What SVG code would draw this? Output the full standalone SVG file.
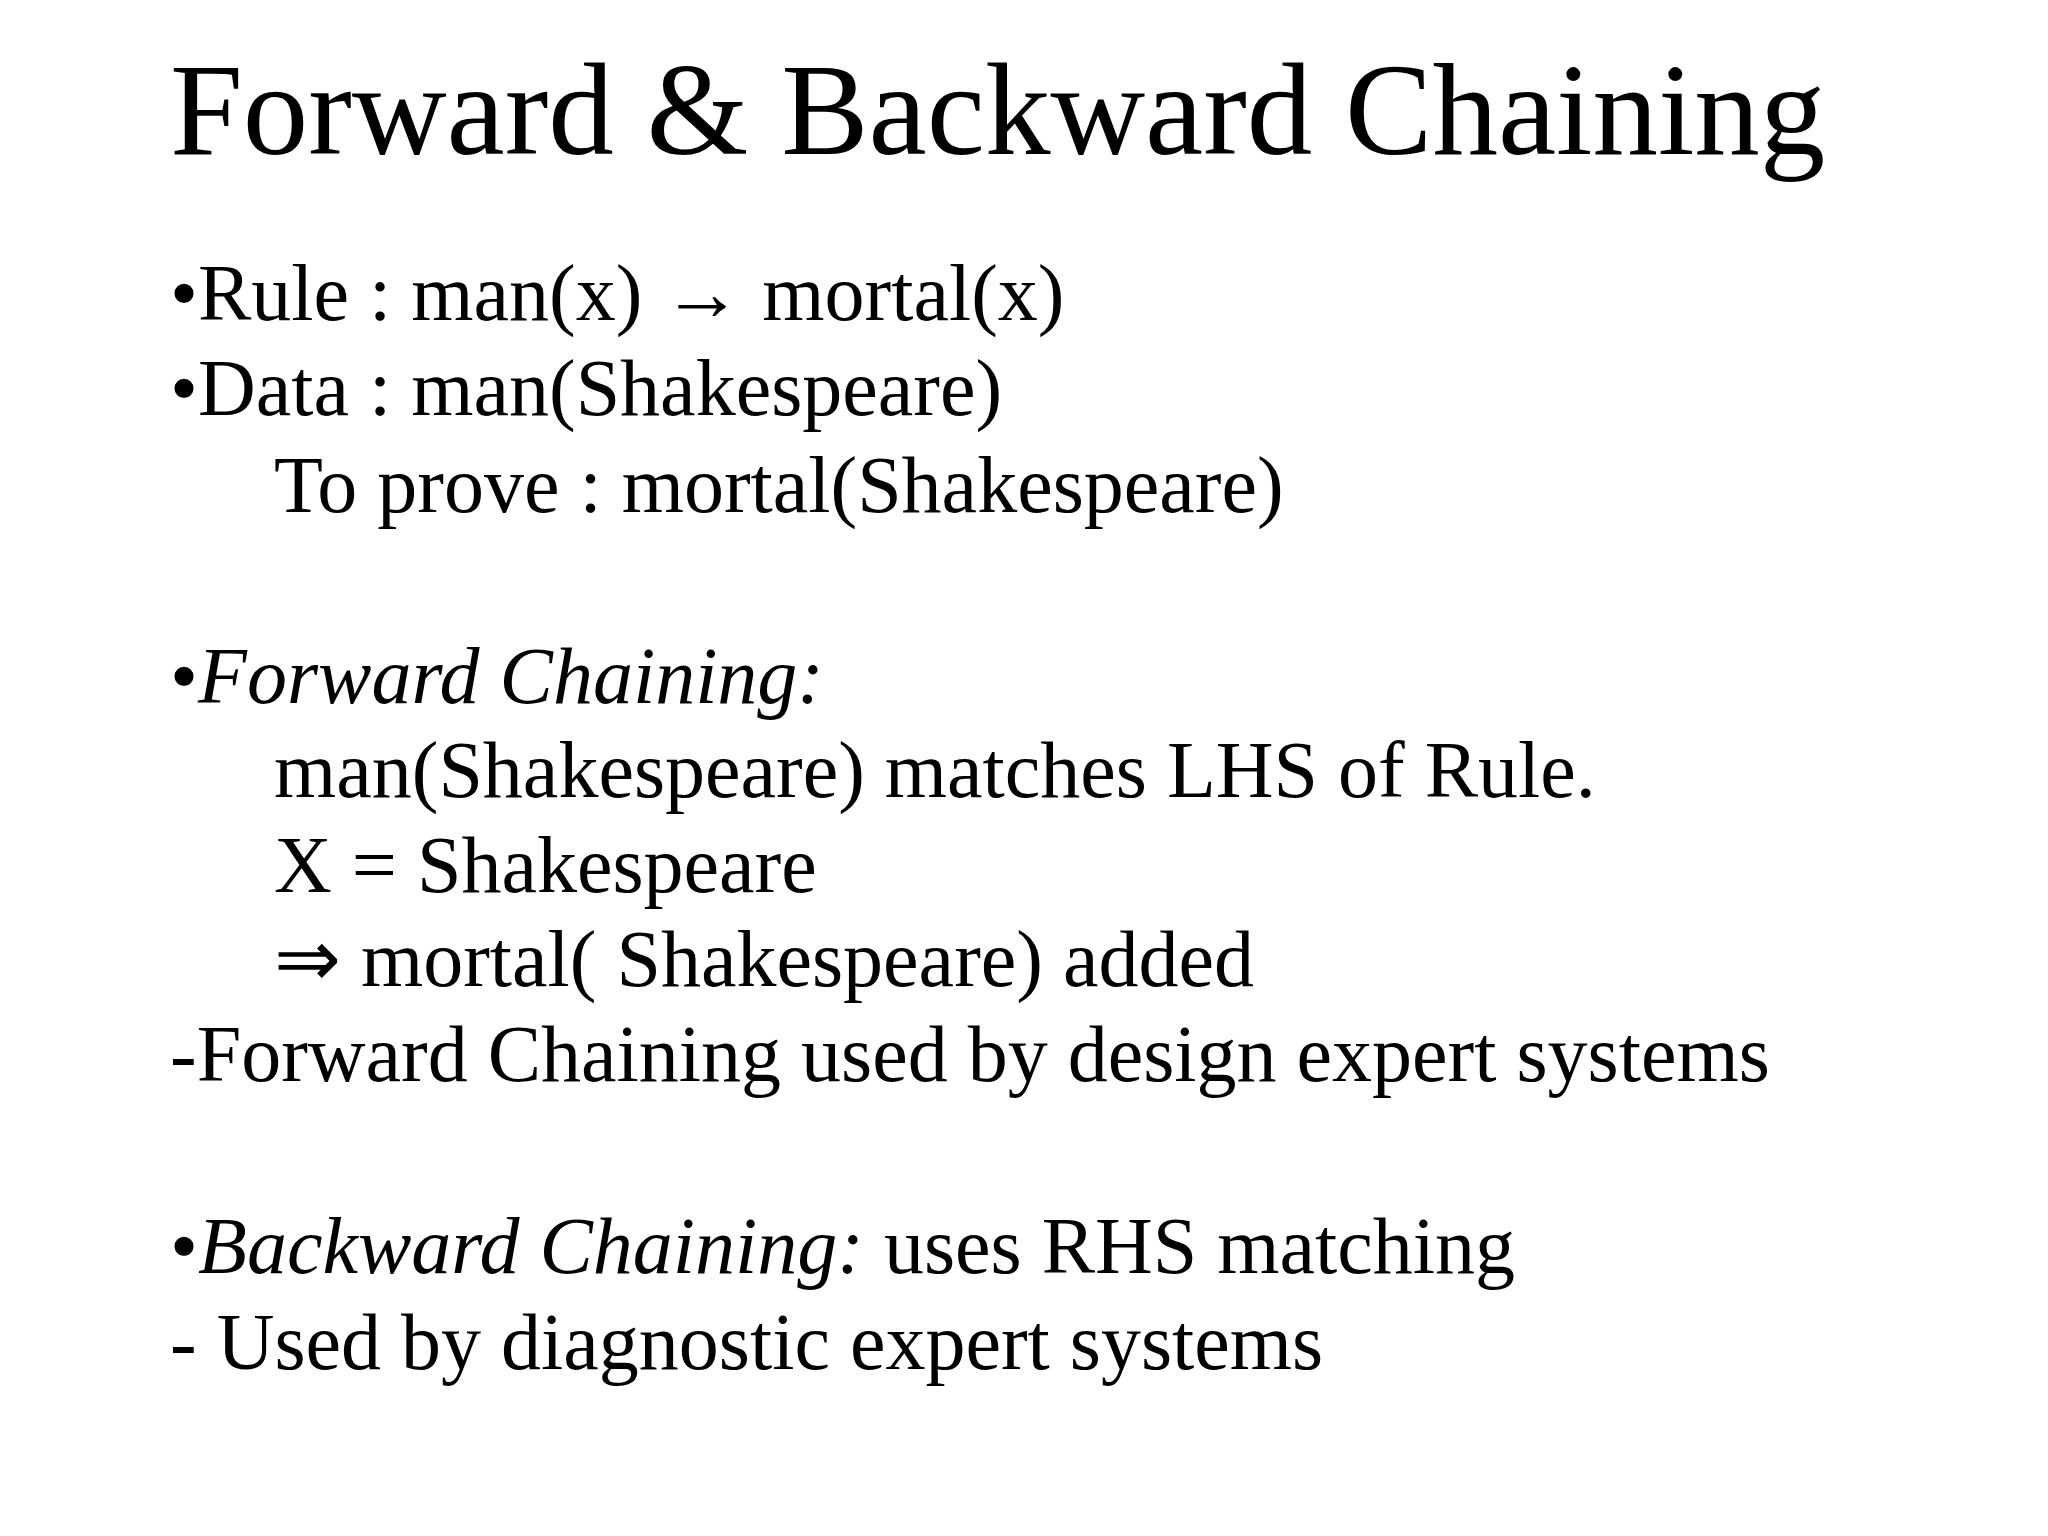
<svg xmlns="http://www.w3.org/2000/svg" width="2048" height="1536" viewBox="0 0 2048 1536">
<style>
text{font-family:"Liberation Serif","Times New Roman",serif;fill:#000}
.b{font-size:80px}
.t{font-size:131px}
</style>
<rect width="2048" height="1536" fill="#fff"/>
<text class="t" x="170" y="154">Forward &amp; Backward Chaining</text>
<g class="b">
<text x="170" y="320">•Rule :  man(x) <tspan font-weight="bold">→</tspan> mortal(x)</text>
<text x="170" y="415">•Data : man(Shakespeare)</text>
<text x="274" y="512">To prove : mortal(Shakespeare)</text>
<text x="170" y="703">•<tspan font-style="italic">Forward Chaining:</tspan></text>
<text x="274" y="797">man(Shakespeare) matches LHS of Rule.</text>
<text x="274" y="892">X = Shakespeare</text>
<text x="274" y="986">⇒ mortal( Shakespeare) added</text>
<text x="170" y="1081">-Forward Chaining used by design expert systems</text>
<text x="170" y="1273">•<tspan font-style="italic">Backward Chaining:</tspan> uses RHS matching</text>
<text x="170" y="1369">- Used by diagnostic expert systems</text>
</g>
</svg>
